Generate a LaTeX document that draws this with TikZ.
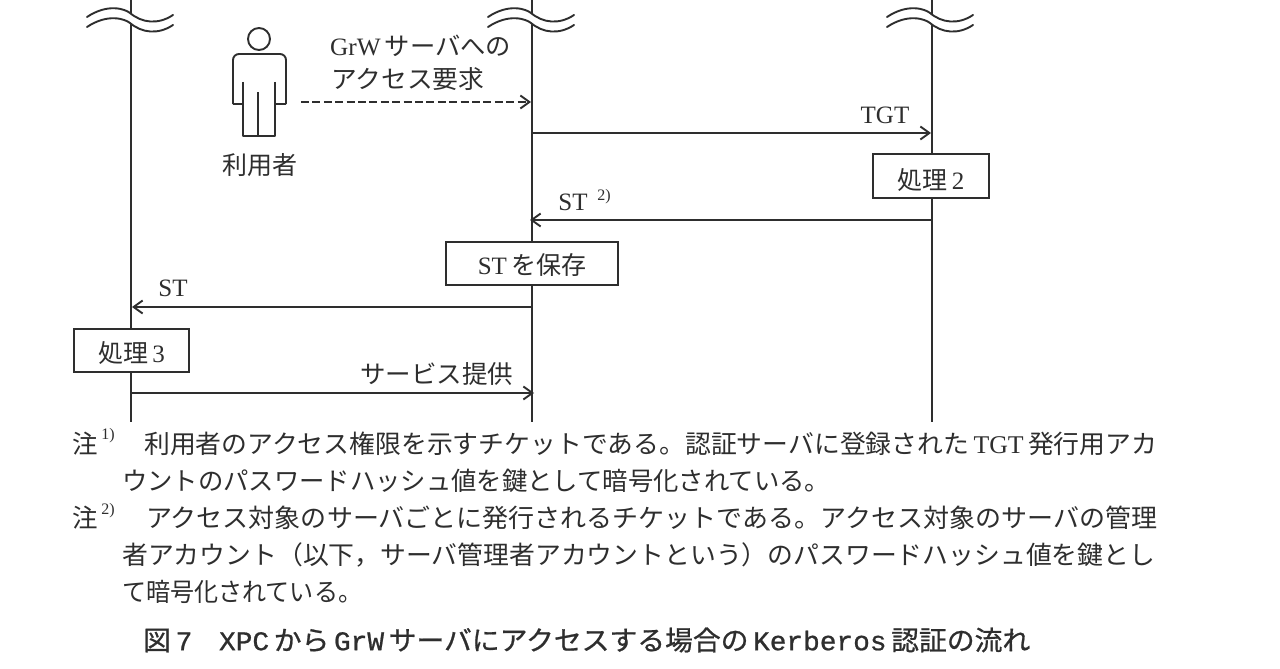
\documentclass[tikz,border=0pt]{standalone}
\usepackage{fontspec}
\usepackage{graphicx}
\usetikzlibrary{arrows.meta}
\setmainfont{Liberation Serif}
\newfontfamily\cjk{Noto Sans CJK JP}
\newfontfamily\capcjk[FakeBold=0.8]{Noto Sans CJK JP}
\newfontfamily\capmono[FakeBold=0.8]{Liberation Mono}
\definecolor{ink}{HTML}{2E2E2E}
\newcommand{\lat}[1]{{\rmfamily #1}}
\newcommand{\fitw}[2]{\resizebox{#1pt}{\height}{#2}}
\tikzset{
  x=1pt,y=-1pt,
  ln/.style={draw=ink,line width=1.9pt},
  msg/.style={ln,-{Straight Barb[length=9pt,width=13pt,line width=1.9pt]}},
  msgd/.style={msg,line width=2.2pt,dash pattern=on 8pt off 3.4pt},
  wav/.style={draw=ink,line width=1.9pt,line cap=round},
  procbox/.style={draw=ink,line width=1.7pt,fill=white,inner sep=0pt,text=ink,font=\cjk\fontsize{25}{25}\selectfont},
  lbl/.style={inner sep=0pt,text=ink,font=\cjk\fontsize{25}{25}\selectfont},
  note/.style={anchor=west,inner sep=0pt,text=ink,font=\cjk\fontsize{25.5}{26}\selectfont},
  capt/.style={anchor=west,inner sep=0pt,text=ink,font=\capcjk\fontsize{27}{28}\selectfont},
  sup/.style={inner sep=0pt,text=ink,font=\rmfamily\fontsize{16}{16}\selectfont}
}
\begin{document}
\begin{tikzpicture}
\useasboundingbox (0,0) rectangle (1280,669);
\fill[white] (0,0) rectangle (1280,669);
% lifeline ends
\coordinate (at) at (131,-2); \coordinate (ab) at (131,422);
\coordinate (bt) at (532,-2); \coordinate (bb) at (532,422);
\coordinate (ct) at (932,-2); \coordinate (cb) at (932,422);
\draw[ln] (at)--(ab);
\draw[ln] (bt)--(bb);
\draw[ln] (ct)--(cb);
% break marks
\foreach \X in {130,531,930}{
  \fill[white] (\X-43,17) .. controls (\X-22,3) and (\X-5,9) .. (\X,13) .. controls (\X+12,23) and (\X+28,25) .. (\X+43,15)
     -- (\X+43,25) .. controls (\X+28,35) and (\X+12,33) .. (\X,23) .. controls (\X-5,19) and (\X-22,13) .. (\X-43,27) -- cycle;
  \draw[wav] (\X-43,17) .. controls (\X-22,3) and (\X-5,9) .. (\X,13) .. controls (\X+12,23) and (\X+28,25) .. (\X+43,15);
  \draw[wav] (\X-43,27) .. controls (\X-22,13) and (\X-5,19) .. (\X,23) .. controls (\X+12,33) and (\X+28,35) .. (\X+43,25);
}
% person
\draw[ln] (259,39) circle (11);
\draw[ln,line join=round,rounded corners=6pt] (233,104) -- (233,54) -- (286,54) -- (286,104);
\draw[ln,line join=round] (233,104) -- (243,104) -- (243,136) -- (275,136) -- (275,104) -- (286,104);
\draw[ln] (243,82) -- (243,104);
\draw[ln] (275,82) -- (275,104);
\draw[ln] (258,92) -- (258,136);
\node[lbl] (user) at (260,165) {利用者};
% labels
\node[lbl,anchor=west] (reqa) at (330,46) {\fitw{181}{\lat{GrW}\,サーバへの}};
\node[lbl,anchor=west] (reqb) at (331,79) {\fitw{153}{アクセス要求}};
\node[lbl] (tgt) at (885,115) {\rmfamily TGT};
\node[lbl] (st2) at (573,202) {\rmfamily ST};
\node[sup] (st2s) at (604,197) {2)};
\node[lbl] (st1) at (173,288) {\rmfamily ST};
\node[lbl,anchor=west] (svc) at (360,374) {\fitw{153}{サービス提供}};
% arrow ends
\coordinate (u) at (301,102); \coordinate (b1) at (531,102);
\coordinate (b2) at (532,133); \coordinate (c2) at (931,133);
\coordinate (c3) at (932,220); \coordinate (b3) at (530,220);
\coordinate (b4) at (532,307); \coordinate (a4) at (132,307);
\coordinate (a5) at (131,393); \coordinate (b5) at (534,393);
\draw[msgd] (u)--(b1);
\draw[msg] (b2)--(c2);
\draw[msg] (c3)--(b3);
\draw[msg] (b4)--(a4);
\draw[msg] (a5)--(b5);
% boxes
\node[procbox,minimum width=116pt,minimum height=44pt] (p2) at (931,176) {\raisebox{-13pt}[0pt][0pt]{処理\,\lat{2}}};
\node[procbox,minimum width=172pt,minimum height=43pt] (sv) at (532,263.5) {\raisebox{-10.5pt}[0pt][0pt]{\lat{ST}\,を保存}};
\node[procbox,minimum width=115pt,minimum height=43pt] (p3) at (131.5,350.5) {\raisebox{-11.5pt}[0pt][0pt]{処理\,\lat{3}}};
% notes
\node[note] (n1) at (72,444) {注};
\node[sup] (n1s) at (108,436) {1)};
\node[note] (n1a) at (144,444) {\fitw{1013}{利用者のアクセス権限を示すチケットである。認証サーバに登録された\,\lat{TGT}\,発行用アカ}};
\node[note] (n1b) at (122,481) {\fitw{708}{ウントのパスワードハッシュ値を鍵として暗号化されている。}};
\node[note] (n2) at (72,518) {注};
\node[sup] (n2s) at (108,511) {2)};
\node[note] (n2a) at (146,518) {\fitw{1011}{アクセス対象のサーバごとに発行されるチケットである。アクセス対象のサーバの管理}};
\node[note] (n2b) at (122,555) {\fitw{1033}{者アカウント（以下，サーバ管理者アカウントという）のパスワードハッシュ値を鍵とし}};
\node[note] (n2c) at (122,592) {\fitw{240}{て暗号化されている。}};
\node[capt] (cap) at (143,640) {\fitw{887}{図\,{\capmono 7}\hspace{26pt}{\capmono XPC}\,から\,{\capmono GrW}\,サーバにアクセスする場合の\,{\capmono Kerberos}\,認証の流れ}};
\end{tikzpicture}
\end{document}
